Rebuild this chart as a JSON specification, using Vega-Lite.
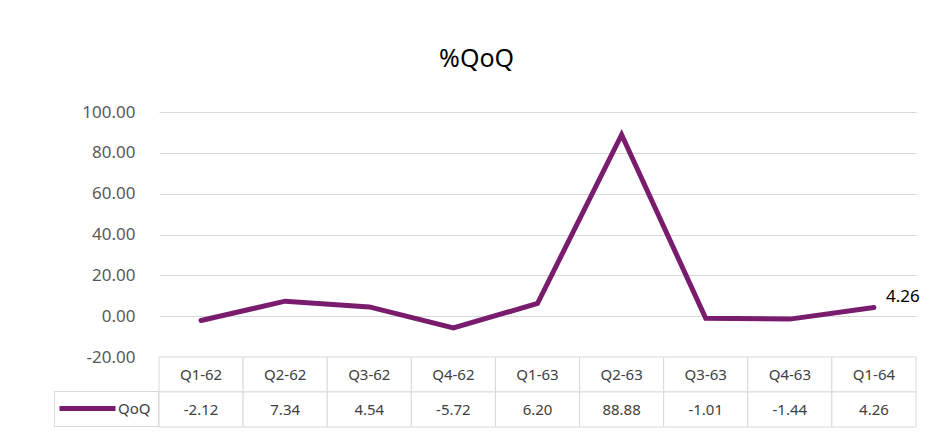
{
  "$schema": "https://vega.github.io/schema/vega-lite/v6.json",
  "padding": {"left": 53, "top": 47, "right": 5, "bottom": 0},
  "background": "white",
  "title": {"text": "%QoQ", "fontSize": 25, "font": "Noto Sans", "fontWeight": "normal", "color": "#000000", "anchor": "middle", "offset": 31, "dx": -10},
  "data": {"values": [
    {"q": "Q1-62", "v": -2.12, "series": "QoQ"},
    {"q": "Q2-62", "v": 7.34, "series": "QoQ"},
    {"q": "Q3-62", "v": 4.54, "series": "QoQ"},
    {"q": "Q4-62", "v": -5.72, "series": "QoQ"},
    {"q": "Q1-63", "v": 6.20, "series": "QoQ"},
    {"q": "Q2-63", "v": 88.88, "series": "QoQ"},
    {"q": "Q3-63", "v": -1.01, "series": "QoQ"},
    {"q": "Q4-63", "v": -1.44, "series": "QoQ"},
    {"q": "Q1-64", "v": 4.26, "series": "QoQ"}
  ]},
  "vconcat": [
    {
      "width": 757,
      "height": 245,
      "layer": [
        {
          "mark": {"type": "line", "strokeWidth": 5, "strokeCap": "round", "strokeJoin": "miter"},
          "encoding": {
            "x": {"field": "q", "type": "ordinal", "sort": null, "scale": {"type": "point", "padding": 0.5}, "axis": null},
            "y": {"field": "v", "type": "quantitative", "scale": {"domain": [-20, 100], "nice": false, "zero": false},
              "axis": {"values": [-20, 0, 20, 40, 60, 80, 100], "format": ".2f", "grid": true, "gridColor": "#d9d9d9", "gridWidth": 1, "domain": false, "ticks": false, "labelFontSize": 17, "labelFont": "Noto Sans", "labelColor": "#595959", "labelPadding": 24, "title": null}},
            "color": {"field": "series", "type": "nominal", "scale": {"range": ["#7a1c6e"]},
              "legend": {"orient": "none", "legendX": -105, "legendY": 279, "title": null, "symbolType": "M-1.5,0H5.5", "symbolSize": 256, "symbolStrokeWidth": 5, "symbolFillColor": "transparent", "labelFontSize": 15, "labelFont": "Noto Sans", "labelColor": "#404040", "labelOffset": 36, "padding": 7, "strokeColor": "#d9d9d9", "cornerRadius": 0}}
          }
        },
        {
          "transform": [{"filter": "datum.q === 'Q1-64'"}],
          "mark": {"type": "text", "align": "left", "baseline": "middle", "dx": 12, "dy": -10, "fontSize": 17, "font": "Noto Sans", "color": "#000000"},
          "encoding": {
            "x": {"field": "q", "type": "ordinal", "sort": null},
            "y": {"field": "v", "type": "quantitative"},
            "text": {"field": "v", "type": "quantitative", "format": ".2f"}
          }
        }
      ]
    },
    {
      "width": 757,
      "height": 70,
      "layer": [
        {
          "mark": {"type": "rect", "fill": "white", "stroke": "#d9d9d9", "strokeWidth": 1},
          "encoding": {
            "x": {"field": "q", "type": "ordinal", "sort": null, "scale": {"type": "band", "paddingInner": 0, "paddingOuter": 0}, "axis": null},
            "y": {"datum": "h", "type": "nominal", "scale": {"type": "band", "domain": ["h", "v"], "paddingInner": 0, "paddingOuter": 0}, "axis": null}
          }
        },
        {
          "mark": {"type": "rect", "fill": "white", "stroke": "#d9d9d9", "strokeWidth": 1},
          "encoding": {
            "x": {"field": "q", "type": "ordinal", "sort": null},
            "y": {"datum": "v", "type": "nominal"}
          }
        },
        {
          "mark": {"type": "text", "fontSize": 15, "font": "Noto Sans", "color": "#404040", "baseline": "middle"},
          "encoding": {
            "x": {"field": "q", "type": "ordinal", "sort": null, "bandPosition": 0.5},
            "y": {"datum": "h", "type": "nominal", "bandPosition": 0.5},
            "text": {"field": "q", "type": "nominal"}
          }
        },
        {
          "mark": {"type": "text", "fontSize": 15, "font": "Noto Sans", "color": "#404040", "baseline": "middle"},
          "encoding": {
            "x": {"field": "q", "type": "ordinal", "sort": null, "bandPosition": 0.5},
            "y": {"datum": "v", "type": "nominal", "bandPosition": 0.5},
            "text": {"field": "v", "type": "quantitative", "format": ".2f"}
          }
        }
      ]
    }
  ],
  "spacing": 0,
  "bounds": "flush",
  "config": {
    "view": {"stroke": null},
    "locale": {"number": {"decimal": ".", "thousands": ",", "grouping": [3], "currency": ["$", ""], "minus": "-"}}
  }
}
